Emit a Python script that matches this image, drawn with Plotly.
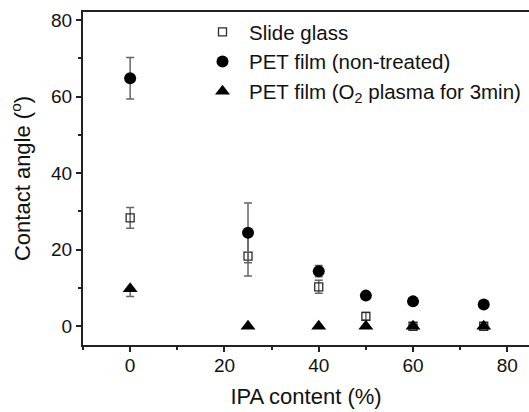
import plotly.graph_objects as go

ipa = [0, 25, 40, 50, 60, 75]
glass = [28.3, 18.3, 10.3, 2.6, 0.0, 0.0]
glass_err = [2.7, 5.2, 1.7, 1.0, 0.0, 0.0]
pet = [64.8, 24.4, 14.4, 8.0, 6.5, 5.7]
pet_err = [5.4, 7.8, 1.5, 0.0, 0.0, 0.0]
plasma = [9.8, 0.0, 0.0, 0.0, 0.0, 0.0]
plasma_err_plus = [0.0, 0.0, 0.0, 0.0, 0.0, 0.0]
plasma_err_minus = [2.0, 0.0, 0.0, 0.0, 0.0, 0.0]

names = ["Slide glass", "PET film (non-treated)", "PET film (O<sub>2</sub> plasma for 3min)"]

err_style = dict(type="data", visible=True, color="#666666", thickness=1.5, width=4)

fig = go.Figure()
fig.add_trace(go.Scatter(
    x=ipa, y=glass, mode="markers", name=names[0],
    marker=dict(symbol="square-open", size=8, color="#2a2a2a", line=dict(width=1.3, color="#2a2a2a")),
    error_y=dict(array=glass_err, **err_style)))
fig.add_trace(go.Scatter(
    x=ipa, y=pet, mode="markers", name=names[1],
    marker=dict(symbol="circle", size=12, color="black"),
    error_y=dict(array=pet_err, **err_style)))
fig.add_trace(go.Scatter(
    x=ipa, y=plasma, mode="markers", name=names[2],
    marker=dict(symbol="triangle-up", size=13, color="black"),
    error_y=dict(array=plasma_err_plus, arrayminus=plasma_err_minus, symmetric=False, **err_style)))

font_family = "Liberation Sans, Arial, sans-serif"
axis_common = dict(
    showline=True, linecolor="#222222", linewidth=2,
    ticks="outside", ticklen=5, tickwidth=1.5, tickcolor="#222222",
    showgrid=False, zeroline=False,
    tickfont=dict(family=font_family, size=19, color="#111111"),
)

fig.update_xaxes(
    range=[-10, 84.6], dtick=20, tick0=0, mirror=True,
    minor=dict(dtick=10, tick0=0, ticks="outside", ticklen=3, tickwidth=1.5, tickcolor="#222222"),
    title=dict(text="IPA content (%)", font=dict(family=font_family, size=22, color="#111111"), standoff=14),
    ticklabelstandoff=-3,
    **axis_common)
fig.update_yaxes(
    range=[-4.9, 82.1], dtick=20, tick0=0,
    minor=dict(dtick=10, tick0=0, ticks="outside", ticklen=3, tickwidth=1.5, tickcolor="#222222"),
    title=dict(text="Contact angle (<sup>o</sup>)", font=dict(family=font_family, size=22, color="#111111"), standoff=14),
    **axis_common)

fig.update_layout(
    width=529, height=412,
    margin=dict(l=83, r=0, t=12, b=67),
    paper_bgcolor="white", plot_bgcolor="white",
    showlegend=True,
    legend=dict(x=(196 - 83) / 446, y=1.0, xanchor="left", yanchor="top",
                bgcolor="rgba(0,0,0,0)", borderwidth=0, itemwidth=43,
                font=dict(family=font_family, size=20.5, color="#111111"), tracegroupgap=0),
)

fig.write_html("out.html")
